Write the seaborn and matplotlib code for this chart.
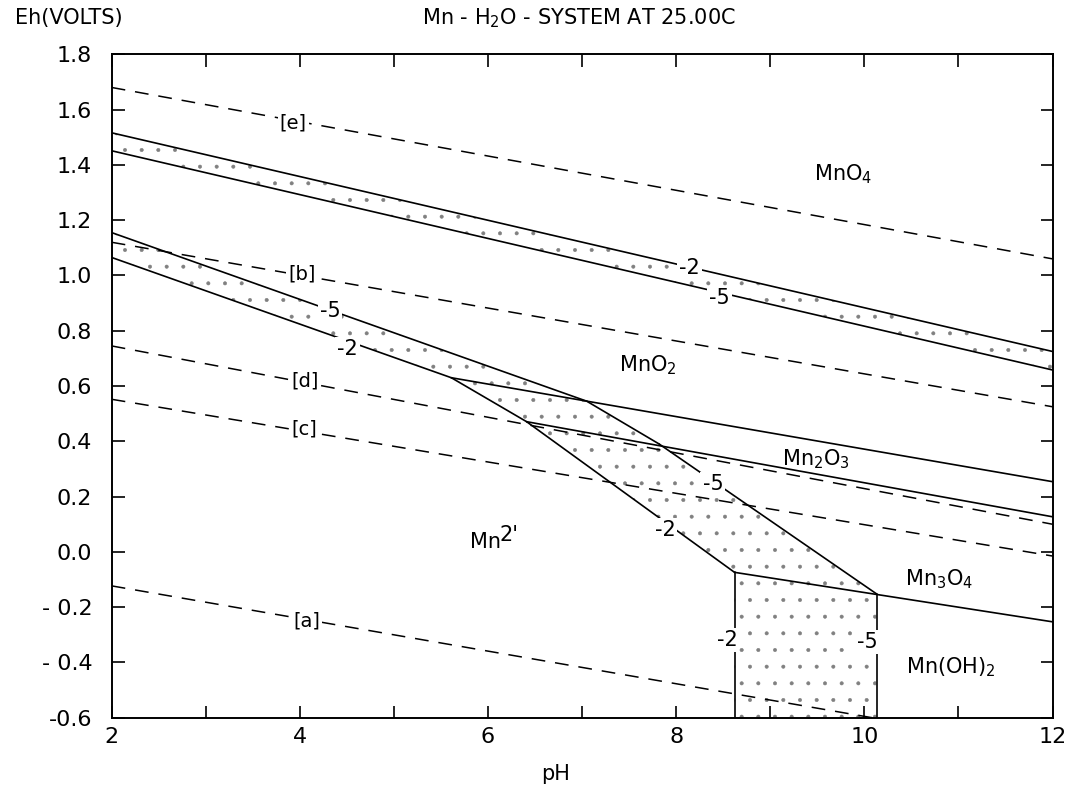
import seaborn as sns
import matplotlib.pyplot as plt
from matplotlib.ticker import MultipleLocator

# dashed reference lines: Eh (volts) at pH 2 and pH 12
ref_ph = [2, 12]
ref_e = [1.68, 1.06]
ref_b = [1.12, 0.525]
ref_d = [0.745, 0.10]
ref_c = [0.552, -0.015]
ref_a = [-0.123, -0.713]
ref_names = ["[e]", "[b]", "[d]", "[c]", "[a]"]
ref_lab_ph = [3.93, 4.02, 4.05, 4.05, 4.07]
ref_lab_eh = [1.55, 1.005, 0.617, 0.444, -0.249]

# solid stability boundaries (pH list, Eh list); -2 / -5 = log activity
mno4_m2 = ([2, 12], [1.516, 0.725])
mno4_m5 = ([2, 12], [1.451, 0.658])
mno2_mn2_m5 = ([2, 7.05], [1.155, 0.545])
mno2_mn2_m2 = ([2, 5.61], [1.065, 0.630])
mno2_mn2o3 = ([5.61, 12], [0.630, 0.254])
mn2o3_mn2_m2 = ([5.61, 6.41], [0.630, 0.471])
mn2o3_mn2_m5 = ([7.05, 7.82], [0.545, 0.390])
mn2o3_mn3o4 = ([6.41, 12], [0.471, 0.127])
mn3o4_mn2_m2 = ([6.41, 8.62], [0.471, -0.074])
mn3o4_mn2_m5 = ([7.82, 10.13], [0.390, -0.152])
mn3o4_mnoh2 = ([8.62, 12], [-0.074, -0.253])
mnoh2_m2 = ([8.62, 8.62], [-0.074, -0.6])
mnoh2_m5 = ([10.13, 10.13], [-0.152, -0.6])

# field names
field_names = ["MnO$_4$", "MnO$_2$", "Mn$_2$O$_3$", "Mn$_3$O$_4$", "Mn(OH)$_2$", "Mn"]
field_ph = [9.77, 7.70, 9.49, 10.8, 10.92, 5.97]
field_eh = [1.365, 0.676, 0.334, -0.10, -0.418, 0.035]
mn2_sup = "2'"

# activity labels on the boundaries
act_names = ["-2", "-5", "-5", "-2", "-5", "-2", "-2", "-5"]
act_ph = [8.14, 8.46, 4.32, 4.51, 8.39, 7.88, 8.54, 10.03]
act_eh = [1.028, 0.919, 0.870, 0.735, 0.247, 0.080, -0.32, -0.325]

sns.set_style("ticks")
plt.rcParams["font.family"] = ["DejaVu Sans"]
plt.rcParams["mathtext.default"] = "regular"
plt.rcParams["hatch.linewidth"] = 0.4
plt.rcParams["text.color"] = "black"
plt.rcParams["xtick.color"] = "black"
plt.rcParams["ytick.color"] = "black"

fig = plt.figure(figsize=(10.74, 7.87), dpi=100)
ax = fig.add_axes([0.104, 0.088, 0.876, 0.843])

# stippled zones between the -2 and -5 boundaries
band_ph = mno4_m2[0] + mno4_m5[0][::-1]
band_eh = mno4_m2[1] + mno4_m5[1][::-1]
ax.fill(band_ph, band_eh, facecolor="none", edgecolor="0.5", hatch=".", lw=0)

zone_ph = (mno2_mn2_m5[0] + mn2o3_mn2_m5[0][1:] + mn3o4_mn2_m5[0][1:] + mnoh2_m5[0][1:]
           + mnoh2_m2[0][::-1] + mn3o4_mn2_m2[0][::-1][1:] + mn2o3_mn2_m2[0][::-1][1:]
           + mno2_mn2_m2[0][::-1][1:])
zone_eh = (mno2_mn2_m5[1] + mn2o3_mn2_m5[1][1:] + mn3o4_mn2_m5[1][1:] + mnoh2_m5[1][1:]
           + mnoh2_m2[1][::-1] + mn3o4_mn2_m2[1][::-1][1:] + mn2o3_mn2_m2[1][::-1][1:]
           + mno2_mn2_m2[1][::-1][1:])
ax.fill(zone_ph, zone_eh, facecolor="none", edgecolor="0.5", hatch=".", lw=0)

# dashed lines
for eh in [ref_e, ref_b, ref_d, ref_c, ref_a]:
    sns.lineplot(x=ref_ph, y=eh, sort=False, estimator=None, color="black",
                 lw=1.1, linestyle=(0, (9, 6.5)), ax=ax)

# solid boundaries
for ph, eh in [mno4_m2, mno4_m5, mno2_mn2_m5, mno2_mn2_m2, mno2_mn2o3,
               mn2o3_mn2_m2, mn2o3_mn2_m5, mn2o3_mn3o4, mn3o4_mn2_m2,
               mn3o4_mn2_m5, mn3o4_mnoh2, mnoh2_m2, mnoh2_m5]:
    sns.lineplot(x=ph, y=eh, sort=False, estimator=None, color="black", lw=1.2, ax=ax)

box = dict(facecolor="white", edgecolor="none", pad=1.5)
for name, x, y in zip(ref_names, ref_lab_ph, ref_lab_eh):
    ax.text(x, y, name, ha="center", va="center", fontsize=14, bbox=box)
for name, x, y in zip(act_names, act_ph, act_eh):
    ax.text(x, y, name, ha="center", va="center", fontsize=15, bbox=box)
for name, x, y in zip(field_names, field_ph, field_eh):
    ax.text(x, y, name, ha="center", va="center", fontsize=15)
ax.annotate(mn2_sup, (field_ph[-1], field_eh[-1]), xytext=(10, 5),
            textcoords="offset points", ha="left", va="center", fontsize=15)

ax.set_xlim(2, 12)
ax.set_ylim(-0.6, 1.8)
ax.xaxis.set_major_locator(MultipleLocator(2))
ax.xaxis.set_minor_locator(MultipleLocator(1))
ax.set_yticks([-0.6, -0.4, -0.2, 0.0, 0.2, 0.4, 0.6, 0.8, 1.0, 1.2, 1.4, 1.6, 1.8])
ax.set_yticklabels(["-0.6", "- 0.4", "- 0.2", "0.0", "0.2", "0.4", "0.6", "0.8",
                    "1.0", "1.2", "1.4", "1.6", "1.8"])
ax.tick_params(which="both", direction="in", length=9, width=1.2,
               top=True, right=True, labelsize=16, color="black", labelcolor="black")
ax.tick_params(axis="y", pad=14)
ax.tick_params(axis="x", pad=7)
for s in ax.spines.values():
    s.set_linewidth(1.4)
    s.set_color("black")
ax.set_xlabel("")
ax.set_ylabel("")

fig.text(0.014, 0.977, "Eh(VOLTS)", ha="left", va="center", fontsize=15)
fig.text(0.539, 0.977, "Mn - H$_2$O - SYSTEM AT 25.00C", ha="center", va="center", fontsize=15)
fig.text(0.517, 0.016, "pH", ha="center", va="center", fontsize=15)

fig.savefig("out.png", dpi=100)
